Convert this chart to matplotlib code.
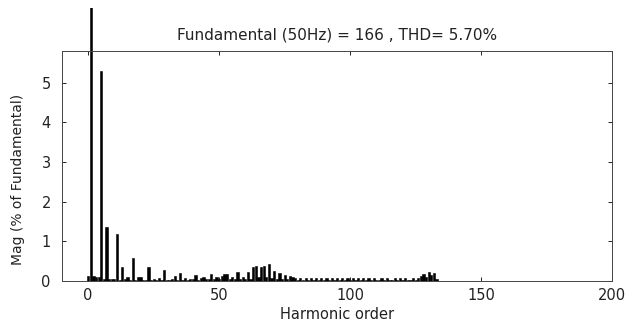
import matplotlib
matplotlib.use("Agg")
import matplotlib.pyplot as plt
from matplotlib.transforms import Bbox, TransformedBbox

# harmonic spectrum, magnitude in % of the 50 Hz fundamental (orders 0..133)
orders = list(range(0, 134))
mags = [
    0.12, 100.0, 0.12, 0.10, 0.10, 5.30, 0.05, 1.35, 0.04, 0.04,   # 0-9
    0.04, 1.18, 0.03, 0.36, 0.05, 0.10, 0.03, 0.57, 0.03, 0.10,    # 10-19
    0.10, 0.03, 0.03, 0.36, 0.02, 0.05, 0.03, 0.08, 0.02, 0.27,    # 20-29
    0.02, 0.03, 0.05, 0.12, 0.03, 0.21, 0.03, 0.08, 0.03, 0.04,    # 30-39
    0.05, 0.16, 0.03, 0.08, 0.10, 0.04, 0.05, 0.18, 0.04, 0.10,    # 40-49
    0.05, 0.13, 0.18, 0.18, 0.05, 0.10, 0.05, 0.22, 0.05, 0.10,    # 50-59
    0.05, 0.22, 0.06, 0.36, 0.38, 0.10, 0.36, 0.38, 0.10, 0.42,    # 60-69
    0.08, 0.24, 0.06, 0.20, 0.05, 0.15, 0.05, 0.12, 0.10, 0.08,    # 70-79
    0.02, 0.08, 0.02, 0.08, 0.02, 0.07, 0.02, 0.08, 0.02, 0.07,    # 80-89
    0.02, 0.08, 0.02, 0.07, 0.02, 0.08, 0.02, 0.07, 0.02, 0.08,    # 90-99
    0.02, 0.07, 0.02, 0.08, 0.02, 0.07, 0.02, 0.08, 0.02, 0.07,    # 100-109
    0.02, 0.02, 0.07, 0.02, 0.08, 0.02, 0.02, 0.07, 0.02, 0.08,    # 110-119
    0.02, 0.07, 0.02, 0.02, 0.08, 0.02, 0.07, 0.12, 0.18, 0.10,    # 120-129
    0.22, 0.15, 0.20, 0.05,                                        # 130-133
]
fund_hz = 50
fund_mag = 166
thd = 5.70

plt.rcParams['font.family'] = ['DejaVu Sans']
plt.rcParams['font.size'] = 10.5

fig = plt.figure(figsize=(6.43, 3.24), dpi=100)
ax = fig.add_axes([0.0964, 0.1327, 0.8556, 0.7099])

bars = ax.bar(orders, mags, width=0.85, color='black', edgecolor='black', linewidth=0.4)

# the fundamental sticks out above the axes up to the figure edge
clip = TransformedBbox(Bbox([[0, 0], [1, 0.975]]), fig.transFigure)
bars[1].set_clip_on(True)
bars[1].set_clip_box(clip)

ax.set_xlim(-10, 200)
ax.set_ylim(0, 5.8)
ax.set_xticks([0, 50, 100, 150, 200])
ax.set_yticks([0, 1, 2, 3, 4, 5])
ax.tick_params(direction='in', length=3, width=0.6, top=True, right=True,
               colors='black', labelcolor='#222222')
ax.tick_params(axis='x', pad=5)
ax.tick_params(axis='y', pad=8)
for s in ax.spines.values():
    s.set_linewidth(0.7)
    s.set_color('#444444')

ax.set_xlabel('Harmonic order', labelpad=3, color='#222222')
ax.set_ylabel('Mag (% of Fundamental)', color='#222222', fontsize=10)
ax.yaxis.set_label_coords(-0.068, 0.44)
ax.set_title('Fundamental (%dHz) = %d , THD= %.2f%%' % (fund_hz, fund_mag, thd),
             pad=8, fontsize=11, color='#222222')

fig.savefig('out.png', dpi=100)
